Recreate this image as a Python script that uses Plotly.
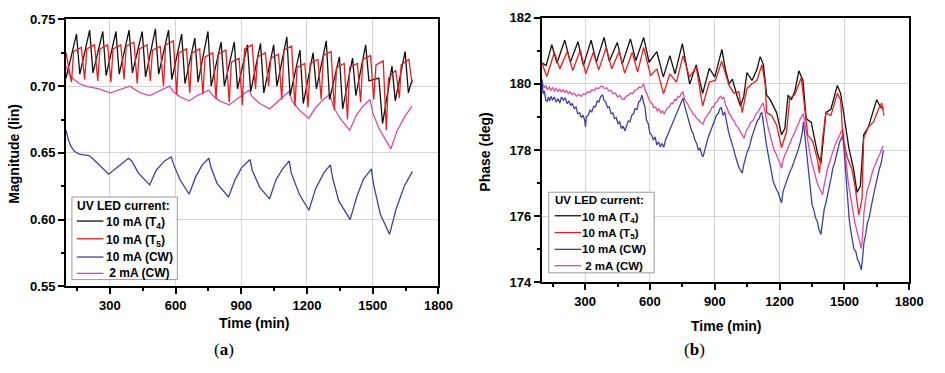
import plotly.graph_objects as go

# ---------------- (a) Magnitude ----------------
mag_t4_t = [100, 148, 163, 208, 223, 268, 283, 328, 343, 388, 403, 448, 463, 508, 523, 568, 583,
            628, 643, 688, 703, 748, 763, 808, 823, 868, 883, 928, 943, 988, 1003, 1048, 1063,
            1108, 1123, 1168, 1183, 1228, 1243, 1288, 1303, 1348, 1363, 1408, 1423, 1468, 1483,
            1528, 1545, 1588, 1603, 1648, 1663, 1680]
mag_t4_v = [0.706, 0.739, 0.709, 0.742, 0.710, 0.741, 0.708, 0.741, 0.709, 0.742, 0.710, 0.741,
            0.707, 0.743, 0.709, 0.742, 0.705, 0.739, 0.702, 0.736, 0.703, 0.741, 0.700, 0.733,
            0.700, 0.733, 0.698, 0.731, 0.696, 0.732, 0.695, 0.731, 0.700, 0.737, 0.693, 0.727,
            0.687, 0.725, 0.698, 0.734, 0.690, 0.722, 0.683, 0.721, 0.693, 0.731, 0.704, 0.706,
            0.672, 0.715, 0.689, 0.726, 0.695, 0.705]

mag_t5_t = [100, 125, 135, 170, 185, 195, 230, 245, 255, 290, 305, 315, 350, 365, 375, 410,
            425, 435, 470, 485, 495, 530, 545, 555, 590, 605, 615, 650, 665, 675, 710, 725, 735,
            770, 785, 795, 830, 845, 855, 890, 905, 915, 950, 965, 975, 1010, 1025, 1035, 1070,
            1085, 1095, 1130, 1145, 1155, 1190, 1205, 1215, 1250, 1265, 1275, 1310, 1325, 1335,
            1370, 1385, 1395, 1430, 1445, 1455, 1490, 1505, 1515, 1548, 1562, 1572, 1605, 1622,
            1630, 1665, 1680]
mag_t5_v = [0.725, 0.703, 0.726, 0.729, 0.705, 0.728, 0.731, 0.704, 0.728, 0.731, 0.703, 0.728,
            0.731, 0.705, 0.730, 0.733, 0.702, 0.728, 0.731, 0.704, 0.727, 0.730, 0.700, 0.731,
            0.734, 0.694, 0.725, 0.728, 0.695, 0.725, 0.728, 0.694, 0.722, 0.725, 0.690, 0.724,
            0.727, 0.688, 0.718, 0.721, 0.686, 0.728, 0.731, 0.698, 0.722, 0.725, 0.700, 0.721,
            0.724, 0.690, 0.727, 0.730, 0.685, 0.714, 0.717, 0.684, 0.717, 0.720, 0.690, 0.723,
            0.726, 0.682, 0.714, 0.717, 0.675, 0.714, 0.717, 0.688, 0.720, 0.723, 0.690, 0.716,
            0.719, 0.667, 0.706, 0.712, 0.691, 0.716, 0.720, 0.702]

mag_cw10_t = [100, 110, 122, 140, 160, 205, 220, 250, 295, 340, 385, 400, 430, 482, 512, 550,
              580, 592, 620, 662, 692, 722, 752, 762, 790, 842, 872, 902, 940, 950, 985, 1029,
              1059, 1089, 1119, 1128, 1165, 1209, 1239, 1277, 1307, 1316, 1345, 1397, 1427,
              1457, 1494, 1503, 1535, 1577, 1607, 1644, 1681]
mag_cw10_v = [0.667, 0.660, 0.655, 0.651, 0.649, 0.648, 0.646, 0.641, 0.634, 0.640, 0.646,
              0.644, 0.635, 0.626, 0.637, 0.644, 0.647, 0.641, 0.630, 0.619, 0.632, 0.641, 0.646,
              0.639, 0.627, 0.617, 0.630, 0.639, 0.645, 0.637, 0.624, 0.6155, 0.630, 0.638, 0.644,
              0.635, 0.619, 0.607, 0.623, 0.635, 0.641, 0.632, 0.614, 0.600, 0.617, 0.630, 0.638,
              0.627, 0.604, 0.589, 0.608, 0.625, 0.636]

mag_cw2_t = [100, 115, 130, 160, 190, 250, 302, 340, 392, 410, 440, 482, 520, 572, 590, 620,
             662, 700, 752, 770, 800, 845, 885, 935, 950, 985, 1030, 1070, 1118, 1132, 1165,
             1208, 1240, 1275, 1305, 1320, 1350, 1395, 1425, 1455, 1488, 1500, 1530, 1583,
             1610, 1645, 1680]
mag_cw2_v = [0.715, 0.709, 0.706, 0.702, 0.700, 0.698, 0.695, 0.697, 0.700, 0.698, 0.695,
             0.693, 0.696, 0.700, 0.696, 0.692, 0.689, 0.693, 0.697, 0.693, 0.689, 0.686, 0.691,
             0.697, 0.692, 0.687, 0.683, 0.689, 0.696, 0.689, 0.682, 0.676, 0.684, 0.690, 0.694,
             0.685, 0.676, 0.667, 0.678, 0.685, 0.690, 0.680, 0.668, 0.653, 0.666, 0.677, 0.685]

# ---------------- (b) Phase ----------------
ph_t4_t = [100, 120, 146, 170, 206, 232, 267, 292, 328, 352, 388, 412, 449, 472, 510, 535, 571,
           596, 632, 662, 692, 716, 750, 784, 814, 844, 875, 900, 933, 950, 966, 981, 1004,
           1019, 1034, 1049, 1072, 1095, 1110, 1125, 1140, 1156, 1186, 1209, 1224, 1239, 1254,
           1270, 1289, 1308, 1323, 1346, 1376, 1391, 1414, 1437, 1467, 1482, 1497, 1520, 1543,
           1558, 1573, 1589, 1611, 1649, 1665, 1680]
ph_t4_v = [180.63, 180.55, 181.18, 180.62, 181.32, 180.65, 181.27, 180.55, 181.32, 180.65,
           181.40, 180.68, 181.25, 180.60, 181.35, 180.70, 181.40, 180.65, 180.97, 180.20,
           180.85, 180.30, 181.21, 179.99, 180.57, 179.71, 180.47, 180.20, 181.04, 180.40,
           180.00, 180.14, 179.61, 179.32, 179.61, 180.34, 180.10, 180.43, 180.82, 180.58,
           179.66, 179.52, 179.13, 178.46, 178.65, 179.66, 179.52, 179.76, 180.39, 180.10,
           178.94, 178.84, 177.88, 177.59, 179.13, 179.23, 179.95, 179.71, 179.08, 178.07,
           177.39, 176.72, 176.90, 178.46, 178.70, 179.52, 179.32, 179.23]

ph_t5_t = [100, 123, 158, 183, 218, 243, 278, 303, 338, 363, 398, 423, 458, 483, 518, 543, 571,
           603, 632, 663, 692, 723, 753, 783, 814, 844, 875, 903, 932, 966, 989, 1011, 1027,
           1049, 1072, 1095, 1118, 1133, 1140, 1163, 1186, 1209, 1232, 1247, 1270, 1300, 1315,
           1330, 1353, 1376, 1384, 1399, 1414, 1437, 1467, 1482, 1493, 1513, 1535, 1551, 1566,
           1581, 1589, 1611, 1634, 1657, 1672, 1683]
ph_t5_v = [180.63, 180.22, 180.95, 180.45, 180.98, 180.40, 181.02, 180.30, 180.95, 180.42,
           181.10, 180.45, 180.98, 180.32, 180.95, 180.35, 181.10, 180.25, 180.45, 179.70,
           180.30, 180.05, 180.85, 180.20, 180.50, 179.33, 180.05, 180.10, 180.68, 179.95,
           179.71, 179.76, 179.13, 179.86, 180.00, 180.10, 180.58, 180.00, 179.13, 179.04,
           178.75, 178.07, 178.55, 179.57, 179.67, 180.19, 179.32, 178.45, 178.26, 177.68,
           177.30, 178.36, 179.13, 179.04, 179.71, 179.52, 178.36, 177.78, 177.40, 176.81,
           176.04, 176.52, 178.36, 178.70, 178.84, 179.23, 179.42, 179.04]

ph_cw10_t = [100, 106, 112, 118, 124, 130, 136, 142, 150, 158, 166, 175, 183, 191, 200, 208,
             216, 225, 233, 241, 250, 258, 266, 275, 283, 291, 298, 302, 306, 315, 323, 331,
             340, 348, 356, 364, 372, 381, 388, 396, 404, 412, 420, 428, 436, 444, 452, 460,
             468, 476, 484, 492, 500, 508, 516, 524, 532, 540, 548, 556, 563, 570, 577, 584,
             592, 600, 608, 616, 624, 632, 640, 648, 656, 664, 672, 680, 688, 696, 704, 712,
             720, 728, 736, 744, 753, 760, 768, 776, 784, 792, 800, 808, 816, 824, 832, 840,
             846, 852, 860, 868, 876, 884, 892, 900, 908, 916, 924, 930, 938, 946, 954, 962,
             970, 978, 986, 994, 1002, 1010, 1018, 1027, 1034, 1042, 1050, 1058, 1066, 1074,
             1082, 1090, 1098, 1106, 1112, 1118, 1124, 1130, 1138, 1146, 1154, 1162, 1170, 1178,
             1186, 1194, 1202, 1209, 1216, 1224, 1232, 1240, 1248, 1256, 1264, 1272, 1280, 1288,
             1296, 1304, 1310, 1314, 1320, 1326, 1332, 1338, 1344, 1350, 1358, 1366, 1374, 1382,
             1391, 1398, 1406, 1414, 1422, 1430, 1438, 1446, 1454, 1462, 1470, 1478, 1486, 1492,
             1498, 1504, 1510, 1516, 1522, 1528, 1536, 1544, 1552, 1560, 1568, 1574, 1578, 1584,
             1590, 1598, 1606, 1614, 1622, 1630, 1638, 1646, 1654, 1662, 1670, 1676, 1680]
ph_cw10_v = [180.14, 179.70, 179.78, 179.50, 179.47, 179.60, 179.48, 179.62, 179.52, 179.60,
             179.45, 179.55, 179.42, 179.60, 179.50, 179.58, 179.40, 179.48, 179.35, 179.40,
             179.25, 179.30, 179.10, 179.12, 178.98, 179.05, 178.90, 178.70, 179.00, 179.05,
             179.20, 179.15, 179.32, 179.30, 179.48, 179.45, 179.62, 179.66, 179.50, 179.45,
             179.28, 179.30, 179.10, 179.12, 178.95, 178.98, 178.80, 178.85, 178.65, 178.72,
             178.58, 178.75, 178.88, 178.85, 179.05, 179.10, 179.25, 179.22, 179.45, 179.50,
             179.66, 179.45, 179.30, 178.90, 178.80, 178.50, 178.45, 178.30, 178.40, 178.15,
             178.25, 178.10, 178.20, 178.08, 178.30, 178.42, 178.55, 178.70, 178.80, 178.95,
             179.05, 179.20, 179.30, 179.45, 179.57, 179.35, 179.15, 178.95, 178.80, 178.60,
             178.50, 178.30, 178.20, 178.00, 178.05, 177.85, 177.80, 178.00, 178.15, 178.35,
             178.50, 178.65, 178.80, 178.92, 179.05, 179.10, 179.25, 179.28, 179.05, 179.15,
             178.80, 178.60, 178.40, 178.25, 178.05, 177.85, 177.65, 177.50, 177.40, 177.30,
             177.55, 177.75, 177.95, 178.05, 178.30, 178.45, 178.60, 178.75, 178.90, 178.95,
             179.10, 179.13, 178.80, 178.55, 178.20, 177.90, 177.55, 177.35, 177.05, 176.90,
             176.80, 176.70, 176.55, 176.40, 176.75, 176.90, 177.10, 177.20, 177.35, 177.45,
             177.60, 177.70, 177.85, 178.05, 178.25, 178.50, 178.85, 178.60, 178.10, 177.75,
             177.30, 176.95, 176.70, 176.35, 176.20, 175.95, 175.85, 175.60, 175.45, 175.80,
             176.20, 176.40, 176.70, 176.90, 177.15, 177.45, 177.60, 177.85, 178.00, 178.25,
             178.35, 178.45, 178.00, 177.40, 176.90, 176.35, 175.90, 175.60, 175.30, 175.00,
             174.95, 174.70, 174.60, 174.40, 174.38, 174.75, 175.20, 175.45, 175.80, 175.95,
             176.30, 176.50, 176.75, 177.00, 177.20, 177.45, 177.60, 177.80, 178.00]

ph_cw2_t = [100, 106, 112, 118, 126, 134, 142, 150, 158, 166, 174, 182, 190, 198, 206, 214,
            222, 230, 240, 250, 260, 270, 282, 292, 302, 312, 322, 332, 342, 352, 362, 372,
            381, 390, 400, 410, 420, 430, 440, 450, 460, 470, 480, 490, 500, 510, 520, 530,
            540, 550, 560, 571, 578, 586, 594, 602, 610, 618, 626, 634, 642, 650, 658, 666,
            674, 682, 690, 698, 706, 714, 722, 730, 738, 746, 753, 760, 768, 776, 784, 792,
            800, 808, 816, 824, 832, 840, 846, 854, 862, 870, 878, 886, 894, 902, 910, 918,
            926, 934, 942, 950, 958, 966, 974, 982, 990, 998, 1006, 1014, 1022, 1030, 1036,
            1044, 1052, 1060, 1068, 1076, 1084, 1092, 1100, 1108, 1116, 1124, 1130, 1138, 1146,
            1154, 1162, 1170, 1178, 1186, 1194, 1202, 1209, 1216, 1224, 1232, 1240, 1248, 1256,
            1264, 1272, 1280, 1288, 1296, 1304, 1310, 1316, 1324, 1332, 1340, 1348, 1356, 1364,
            1372, 1380, 1390, 1399, 1406, 1414, 1422, 1430, 1438, 1446, 1454, 1462, 1470, 1478,
            1486, 1494, 1500, 1508, 1516, 1524, 1532, 1540, 1548, 1556, 1564, 1572, 1578, 1584,
            1590, 1598, 1606, 1614, 1622, 1630, 1638, 1646, 1654, 1662, 1670, 1680]
ph_cw2_v = [180.14, 179.95, 179.88, 179.95, 179.82, 179.90, 179.80, 179.88, 179.78, 179.86,
            179.76, 179.85, 179.75, 179.82, 179.74, 179.80, 179.70, 179.76, 179.68, 179.72,
            179.62, 179.68, 179.62, 179.70, 179.68, 179.76, 179.74, 179.82, 179.80, 179.88,
            179.85, 179.92, 179.93, 179.85, 179.88, 179.78, 179.80, 179.70, 179.72, 179.60,
            179.65, 179.55, 179.52, 179.62, 179.65, 179.72, 179.70, 179.80, 179.82, 179.90,
            179.88, 180.00, 179.80, 179.70, 179.55, 179.45, 179.40, 179.28, 179.30, 179.18,
            179.25, 179.12, 179.18, 179.08, 179.20, 179.28, 179.30, 179.42, 179.40, 179.52,
            179.50, 179.62, 179.60, 179.72, 179.75, 179.55, 179.45, 179.38, 179.25, 179.20,
            179.08, 179.05, 178.95, 178.92, 178.85, 178.80, 178.78, 178.95, 179.00, 179.10,
            179.15, 179.28, 179.30, 179.42, 179.45, 179.55, 179.62, 179.55, 179.60, 179.35,
            179.25, 179.10, 179.05, 178.92, 178.88, 178.75, 178.70, 178.60, 178.50, 178.42,
            178.35, 178.55, 178.65, 178.72, 178.85, 178.88, 179.00, 179.10, 179.15, 179.28,
            179.35, 179.42, 179.20, 178.95, 178.70, 178.50, 178.25, 178.10, 177.95, 177.85,
            177.70, 177.60, 177.45, 177.70, 177.85, 177.95, 178.10, 178.20, 178.35, 178.45,
            178.55, 178.70, 178.80, 178.95, 179.05, 179.10, 178.85, 178.50, 178.20, 177.90,
            177.65, 177.45, 177.20, 177.05, 176.90, 176.75, 176.65, 176.95, 177.25, 177.45,
            177.60, 177.80, 177.95, 178.10, 178.25, 178.35, 178.45, 178.58, 178.55, 178.10,
            177.60, 177.10, 176.75, 176.40, 176.05, 175.80, 175.60, 175.35, 175.20, 175.02,
            175.45, 176.10, 176.50, 176.80, 176.95, 177.20, 177.35, 177.50, 177.60, 177.75,
            177.85, 178.00, 178.12]

series_names = ["10 mA (T<sub>4</sub>)", "10 mA (T<sub>5</sub>)", "10 mA (CW)", "2 mA (CW)"]
series_colors = ["#111111", "#ee1c1c", "#3b42a3", "#e04aa8"]
legend_title = "UV LED current:"

FONT = "Liberation Sans, Arial, sans-serif"

fig = go.Figure()

mag_sets = [(mag_t4_t, mag_t4_v), (mag_t5_t, mag_t5_v), (mag_cw10_t, mag_cw10_v), (mag_cw2_t, mag_cw2_v)]
ph_sets = [(ph_t4_t, ph_t4_v), (ph_t5_t, ph_t5_v), (ph_cw10_t, ph_cw10_v), (ph_cw2_t, ph_cw2_v)]

# pink and blue drawn first so black/red sit on top
order = [3, 2, 0, 1]
for i in order:
    t, v = mag_sets[i]
    fig.add_trace(go.Scatter(x=t, y=v, mode="lines", name=series_names[i], showlegend=False,
                             line=dict(color=series_colors[i], width=1.3),
                             xaxis="x", yaxis="y"))
for i in order:
    t, v = ph_sets[i]
    fig.add_trace(go.Scatter(x=t, y=v, mode="lines", name=series_names[i], showlegend=False,
                             line=dict(color=series_colors[i], width=1.3),
                             xaxis="x2", yaxis="y2"))

W, H = 945, 373

def px(x):
    return x / W

def py(y):
    return 1 - y / H

tickfont = dict(family=FONT, size=13, color="black", weight="bold")

def xaxis(domain, anchor):
    return dict(domain=domain, anchor=anchor, range=[100, 1800], tickvals=[300, 600, 900, 1200, 1500, 1800],
                ticks="outside", ticklen=6, tickwidth=1.5, tickcolor="black",
                showline=True, linewidth=2, linecolor="black", mirror=True,
                showgrid=True, gridcolor="#d4d4d4", gridwidth=1, zeroline=False,
                tickfont=tickfont,
                minor=dict(tickvals=[150, 450, 750, 1050, 1350, 1650], ticks="outside", ticklen=3,
                           tickwidth=1.5, tickcolor="black", showgrid=False))

def yaxis(domain, anchor, rng, vals, minor_vals, fmt):
    return dict(domain=domain, anchor=anchor, range=rng, tickvals=vals, tickformat=fmt,
                ticks="outside", ticklen=6, tickwidth=1.5, tickcolor="black",
                showline=True, linewidth=2, linecolor="black", mirror=True,
                showgrid=True, gridcolor="#d4d4d4", gridwidth=1, zeroline=False,
                tickfont=tickfont,
                minor=dict(tickvals=minor_vals, ticks="outside", ticklen=3, tickwidth=1.5,
                           tickcolor="black", showgrid=False))

fig.update_layout(
    width=W, height=H, margin=dict(l=0, r=0, t=0, b=0),
    paper_bgcolor="white", plot_bgcolor="white",
    font=dict(family=FONT, color="black"),
    xaxis=xaxis([px(67), px(445)], "y"),
    yaxis=yaxis([py(291), py(13)], "x", [0.55, 0.75], [0.55, 0.60, 0.65, 0.70, 0.75],
                [0.575, 0.625, 0.675, 0.725], ".2f"),
    xaxis2=xaxis([px(550), px(923)], "y2"),
    yaxis2=yaxis([py(287), py(11)], "x2", [174, 182], [174, 176, 178, 180, 182],
                 [175, 177, 179, 181], "d"),
    showlegend=False,
)

# ---- key boxes: frame, heading, sample lines and labels ----
keys = [
    dict(box=(73, 198, 180, 284), title=(78, 207), line_x=(78, 105), text_x=109,
         rows=[223, 241.5, 260.5, 277.5], size=12),
    dict(box=(557, 193, 664, 277), title=(563, 201.5), line_x=(563, 590), text_x=592,
         rows=[217.5, 235, 252.5, 269.5], size=11.5),
]
for k in keys:
    key_font = dict(family=FONT, size=k["size"], color="black", weight="bold")
    x0, y0, x1, y1 = k["box"]
    fig.add_shape(type="rect", xref="paper", yref="paper", layer="above",
                  x0=px(x0), x1=px(x1), y0=py(y1), y1=py(y0),
                  fillcolor="white", line=dict(color="#9a9a9a", width=1))
    fig.add_annotation(xref="paper", yref="paper", showarrow=False, xanchor="left", yanchor="middle",
                       x=px(k["title"][0] - 1), y=py(k["title"][1]), text=legend_title, font=key_font,
                       borderpad=0)
    for i, yr in enumerate(k["rows"]):
        fig.add_shape(type="line", xref="paper", yref="paper", layer="above",
                      x0=px(k["line_x"][0]), x1=px(k["line_x"][1]), y0=py(yr), y1=py(yr),
                      line=dict(color=series_colors[i], width=1.3))
        label = series_names[i] if i < 3 else " " + series_names[i]
        # labels with a subscript have a taller box; nudge them down so the text sits on its line
        y_text = yr + (2 if "<sub>" in label else 0)
        fig.add_annotation(xref="paper", yref="paper", showarrow=False, xanchor="left", yanchor="middle",
                           x=px(k["text_x"] - 2), y=py(y_text), text=label, font=key_font, borderpad=0)

bold = dict(family=FONT, size=14, color="black", weight="bold")
annos = [
    dict(text="Time (min)", x=px(258), y=py(329), font=bold),
    dict(text="Time (min)", x=px(737), y=py(332), font=bold),
    dict(text="Magnitude (lin)", x=px(14), y=py(153), font=bold, textangle=-90),
    dict(text="Phase (deg)", x=px(492), y=py(151), font=bold, textangle=-90),
    dict(text="(<b>a</b>)", x=px(227), y=py(357), font=dict(family="Liberation Serif, serif", size=17, color="black")),
    dict(text="(<b>b</b>)", x=px(705), y=py(357), font=dict(family="Liberation Serif, serif", size=17, color="black")),
]
for a in annos:
    fig.add_annotation(xref="paper", yref="paper", showarrow=False, xanchor="center", yanchor="middle", **a)

fig.write_html("out.html")
